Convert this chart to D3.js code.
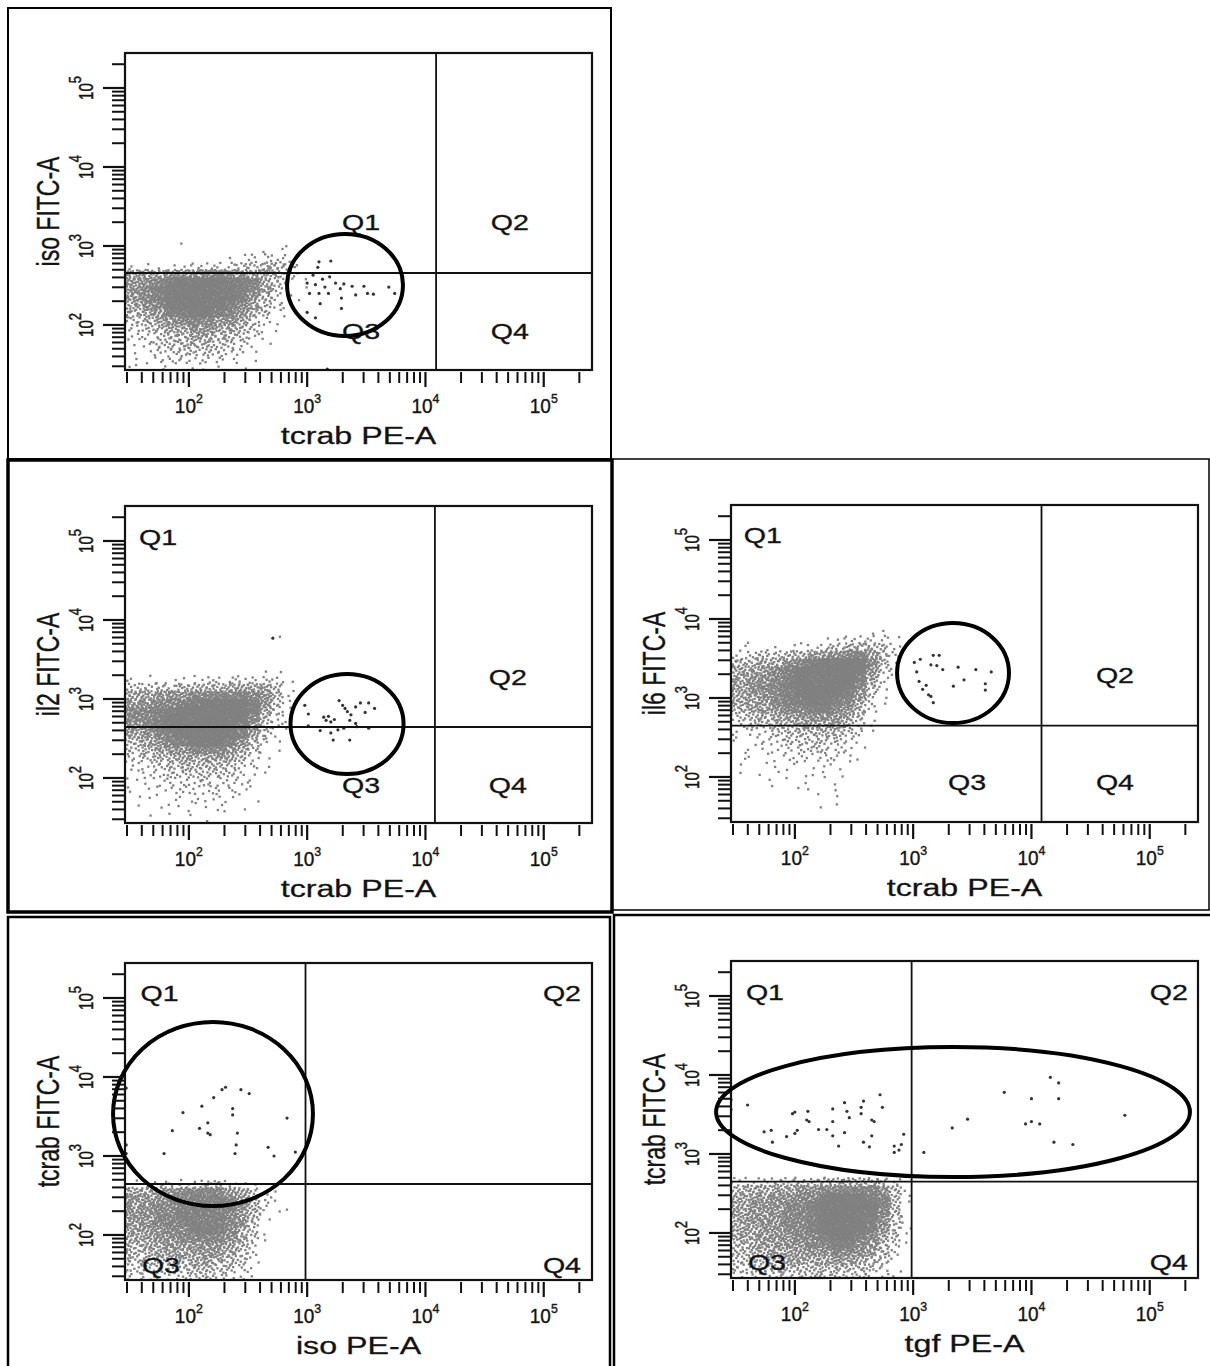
<!DOCTYPE html>
<html><head><meta charset="utf-8">
<script src="https://cdn.jsdelivr.net/npm/d3@7/dist/d3.min.js"></script>
<style>
body{margin:0;background:#fff}
svg{display:block}
text{font-family:"Liberation Sans",Arial,Helvetica,sans-serif;fill:#111}
</style>
</head><body>
<svg id="chart" width="1210" height="1366"></svg>
<script>
// ---------------- DATA (log10 units) ----------------
const xTitles = ["tcrab PE-A","tcrab PE-A","tcrab PE-A","iso PE-A","tgf PE-A"];
const yTitles = ["iso FITC-A","il2 FITC-A","il6 FITC-A","tcrab FITC-A","tcrab FITC-A"];
const decadeExponents = [2,3,4,5];
const minorMultipliers = [2,3,4,5,6,7,8,9];
const quadrantNames = ["Q1","Q2","Q3","Q4"];
const xDomainLog = [1.46, 5.408];
const yDomainLog = [1.43, 5.443];

// quadrant gate (x, y) in log10
const quadGates = [[4.09,2.658],[4.08,2.645],[4.085,2.649],[2.986,2.645],[2.987,2.649]];
// drawn ellipse: centre x, centre y, half-width, half-height (decades)
const ellipseGates = [[3.32,2.506,0.49,0.646],[3.337,2.683,0.478,0.633],[3.337,3.316,0.473,0.633],[2.204,3.531,0.845,1.165],[3.337,3.531,2.003,0.823]];
// quadrant label anchor points (log10)
const qLabelPos1 = [[3.455,3.303],[4.714,3.303],[3.455,1.917],[4.714,1.917]];
const qLabelPos2 = [[1.739,5.050],[4.697,3.278],[3.455,1.911],[4.697,1.911]];
const qLabelPos3 = [[1.730,5.063],[4.706,3.291],[3.455,1.936],[4.706,1.936]];
const qLabelPos4 = [[1.752,5.063],[5.154,5.063],[1.764,1.620],[5.154,1.620]];
const qLabelPos5 = [[1.747,5.050],[5.162,5.050],[1.764,1.633],[5.162,1.633]];

// event-density grids: columns start at log x 1.4, step 0.1; rows step 0.1 downward from the given top row
const cloudColStart = 1.4;
const cloudTop = [3.0, 3.7, 3.8, 2.6, 2.6];
const cloud1 = [
"0000010000000000","0000000000001110","0000000001122210","1111112222334431",
"5555666776655421","6667899998875321","6678999999875311","6678999999864211",
"5567999998753210","4456889987643110","3345677766532100","2234556655431100",
"2223445544321000","1123344433211000","1112333332210000","1112222221110000",
"1111111111100000"];
const cloud2 = [
"0000000000000100","0000000000000000","0000000000000000","0000000000000000",
"0000000000001100","1111111222222210","3333344445555310","5556667777776410",
"6667788999986310","7778899999985310","7778999999974210","6678999999863210",
"5567899999853100","4456789998642100","3345667776531100","2234455555321000",
"2223344443221000","1122333333211000","1112222322210000","1111222222110000",
"1111112121110000","1101111111100000","0010111011000000","0000010100000000"];
const cloud3 = [
"0000000000001100","0000000011222210","0111111223444320","2233344566776420",
"4445567899997410","5556789999996310","5566789999985210","5567789999974200",
"5566789999863100","5556788998752100","4455677887642000","3344556666531000",
"2233445555421000","1122334444321000","1112233333210000","1111222332210000",
"1111122222110000","0101111111100000","0101111111100000","0001011011000000",
"0000101101000000","0000000101000000","0000000011000000"];
const cloud4 = [
"1112222332110000","5556677776531100","6666778887642100","6667788888642010",
"6667788887641100","6667788887631000","5566778887531000","5556677776521000",
"4455666665420000","4445555655320000","3344445544310000","3333334433210000",
"2222233332210000"];
const cloud5 = [
"2222333344444320","4455556677777641","5556667789998741","5566677899999741",
"5566677899999741","5566677899998631","5556677899998631","5556667789987531",
"4455666778876421","4445556667765420","3344455556554310","3333444444443210",
"2222333333332210"];

// individual highlighted events (log10 x, log10 y)
const events1 = [[3.10,2.80],[3.20,2.81],[3.09,2.73],[3.05,2.63],[3.13,2.58],[3.19,2.61],[3.00,2.53],[3.07,2.51],[3.15,2.48],[3.24,2.53],[3.31,2.52],[3.38,2.49],[3.48,2.49],[3.28,2.46],[3.02,2.40],[3.10,2.40],[3.18,2.40],[3.29,2.34],[3.41,2.38],[3.51,2.40],[3.56,2.39],[3.69,2.48],[3.74,2.40],[3.11,2.27],[3.29,2.21],[3.00,2.16],[3.07,2.09],[3.17,1.44]];
const events2 = [[3.01,2.81],[3.01,2.66],[2.98,2.92],[3.14,2.77],[3.18,2.78],[3.20,2.71],[3.16,2.73],[3.23,2.74],[3.27,2.98],[3.30,2.92],[3.32,2.88],[3.34,2.84],[3.37,2.80],[3.41,2.90],[3.45,2.95],[3.49,2.83],[3.52,2.95],[3.57,2.88],[3.36,2.73],[3.41,2.69],[3.52,2.63],[3.11,2.60],[3.20,2.57],[3.26,2.61],[3.31,2.63],[3.22,2.48],[3.36,2.48],[3.42,2.65],[2.71,3.77]];
const events3 = [[3.01,3.45],[3.06,3.49],[3.17,3.54],[3.22,3.54],[3.15,3.42],[3.20,3.41],[3.25,3.36],[3.38,3.39],[3.53,3.36],[3.66,3.33],[3.43,3.23],[3.03,3.33],[3.05,3.21],[3.11,3.16],[3.13,3.04],[3.15,3.02],[3.17,2.94],[3.34,3.15],[3.61,3.10],[3.61,3.18],[3.08,3.11]];
const events4 = [[2.28,3.84],[2.31,3.87],[2.44,3.84],[2.51,3.79],[2.21,3.74],[2.11,3.63],[2.37,3.60],[2.37,3.52],[1.95,3.55],[2.83,3.48],[2.16,3.42],[2.09,3.35],[2.16,3.29],[2.18,3.27],[2.41,3.29],[1.86,3.32],[2.40,3.14],[2.67,3.11],[2.72,3.00],[2.90,3.05],[2.39,3.03],[1.79,3.03],[1.47,3.86],[1.47,3.14],[1.47,3.03]];
const events5 = [[1.60,3.62],[1.74,3.28],[1.80,3.30],[1.81,3.15],[1.93,3.22],[1.98,3.51],[2.00,3.53],[2.00,3.26],[2.02,3.30],[2.10,3.43],[2.12,3.41],[2.11,3.54],[2.20,3.31],[2.27,3.31],[2.32,3.23],[2.32,3.41],[2.32,3.57],[2.37,3.10],[2.42,3.65],[2.42,3.27],[2.44,3.54],[2.46,3.46],[2.56,3.59],[2.56,3.51],[2.58,3.67],[2.58,3.15],[2.63,3.09],[2.65,3.43],[2.67,3.41],[2.65,3.23],[2.72,3.75],[2.74,3.59],[2.84,3.10],[2.84,3.02],[2.88,3.05],[2.90,3.12],[2.92,3.25],[3.09,3.02],[3.33,3.33],[3.46,3.44],[3.77,3.78],[3.95,3.38],[4.00,3.41],[4.07,3.38],[4.00,3.70],[4.16,3.97],[4.23,3.90],[4.23,3.70],[4.19,3.15],[4.35,3.12],[4.79,3.49],[1.46,3.69],[1.46,3.56]];

// ---------------- LAYOUT ----------------
const PW = 467, PH = 317;
const frames = [{x:125,y:53},{x:125,y:506},{x:731,y:505},{x:125,y:963},{x:731,y:961}];
const boxes = [
  {x:8,y:8,w:603,h:451,sw:2},
  {x:8,y:460,w:604,h:452,sw:3.5},
  {x:612,y:459,w:597,h:451,sw:1.5},
  {x:8,y:917,w:602,h:460,sw:2.5},
  {x:614,y:915,w:600,h:460,sw:2.5}
];
const clouds = [cloud1,cloud2,cloud3,cloud4,cloud5];
const eventsAll = [events1,events2,events3,events4,events5];
const qPosAll = [qLabelPos1,qLabelPos2,qLabelPos3,qLabelPos4,qLabelPos5];
const levelCounts = [0,1,3,6,9,13,18,25,35,52];
const DOT = 2.3;

const svg = d3.select("#chart");
const pow = v => Math.pow(10, v);
function halton(i, b){ let f=1, r=0; while(i>0){ f/=b; r+=f*(i%b); i=Math.floor(i/b);} return r; }

// outer panel boxes
svg.append("g").selectAll("rect").data(boxes).join("rect")
  .attr("x",d=>d.x).attr("y",d=>d.y).attr("width",d=>d.w).attr("height",d=>d.h)
  .attr("fill","none").attr("stroke","#000").attr("stroke-width",d=>d.sw);

frames.forEach((f, pi) => {
  const x = d3.scaleLog().domain(xDomainLog.map(pow)).range([f.x, f.x+PW]);
  const y = d3.scaleLog().domain(yDomainLog.map(pow)).range([f.y+PH, f.y]);
  const g = svg.append("g");
  const clipId = "clip"+pi;
  g.append("clipPath").attr("id",clipId).append("rect")
    .attr("x",f.x).attr("y",f.y).attr("width",PW).attr("height",PH);

  // density cloud -> dots
  const dots = [];
  clouds[pi].forEach((row, ri) => {
    const yb = cloudTop[pi] - ri*0.1;
    for (let ci=0; ci<row.length; ci++){
      const n = levelCounts[+row[ci]];
      const start = ((ci*37 + ri*91 + pi*17) % 211) + 1;
      for (let k=0;k<n;k++){
        const xv = cloudColStart + (ci + halton(start+k,2))*0.1;
        const yv = yb + halton(start+k,3)*0.1;
        dots.push([xv,yv]);
      }
    }
  });
  g.append("g").attr("clip-path","url(#"+clipId+")").selectAll("rect").data(dots).join("rect")
    .attr("x",d=>x(pow(d[0]))-DOT/2).attr("y",d=>y(pow(d[1]))-DOT/2)
    .attr("width",DOT).attr("height",DOT).attr("fill","#808080");

  // highlighted events
  g.append("g").attr("clip-path","url(#"+clipId+")").selectAll("circle").data(eventsAll[pi]).join("circle")
    .attr("cx",d=>x(pow(d[0]))).attr("cy",d=>y(pow(d[1]))).attr("r",1.6).attr("fill","#333");

  // quadrant gate lines
  const qg = quadGates[pi];
  g.append("line").attr("x1",x(pow(qg[0]))).attr("x2",x(pow(qg[0]))).attr("y1",f.y).attr("y2",f.y+PH)
    .attr("stroke","#111").attr("stroke-width",1.8);
  g.append("line").attr("x1",f.x).attr("x2",f.x+PW).attr("y1",y(pow(qg[1]))).attr("y2",y(pow(qg[1])))
    .attr("stroke","#111").attr("stroke-width",1.8);

  // frame
  g.append("rect").attr("x",f.x).attr("y",f.y).attr("width",PW).attr("height",PH)
    .attr("fill","none").attr("stroke","#111").attr("stroke-width",2.2);

  // quadrant labels
  qPosAll[pi].forEach((p,qi)=>{
    g.append("text").attr("transform",`translate(${x(pow(p[0]))},${y(pow(p[1]))}) scale(1.3,1)`)
      .attr("text-anchor","middle").attr("dominant-baseline","central")
      .attr("font-size",22).attr("stroke","#222").attr("stroke-width",0.35).text(quadrantNames[qi]);
  });

  // ellipse gate
  const e = ellipseGates[pi];
  const cx = x(pow(e[0])), cy = y(pow(e[1]));
  g.append("ellipse").attr("cx",cx).attr("cy",cy)
    .attr("rx",x(pow(e[0]+e[2]))-cx).attr("ry",cy-y(pow(e[1]+e[3])))
    .attr("fill","none").attr("stroke","#000").attr("stroke-width",4);

  // ticks
  const minorVals = [];
  [1,2,3,4,5].forEach(d=>minorMultipliers.forEach(m=>{
    const v = m*pow(d); if (v>=pow(xDomainLog[0]) && v<=pow(xDomainLog[1])) minorVals.push(v);
  }));
  const minorValsY = [];
  [1,2,3,4,5].forEach(d=>minorMultipliers.forEach(m=>{
    const v = m*pow(d); if (v>=pow(yDomainLog[0]) && v<=pow(yDomainLog[1])) minorValsY.push(v);
  }));
  const majorVals = decadeExponents.map(pow);
  const bottom = f.y+PH, left = f.x;
  const tg = g.append("g").attr("stroke","#111");
  tg.selectAll("line.xm").data(minorVals).join("line").attr("class","xm")
    .attr("x1",d=>x(d)).attr("x2",d=>x(d)).attr("y1",bottom+2).attr("y2",bottom+13).attr("stroke-width",2);
  tg.selectAll("line.xM").data(majorVals).join("line").attr("class","xM")
    .attr("x1",d=>x(d)).attr("x2",d=>x(d)).attr("y1",bottom+2).attr("y2",bottom+17).attr("stroke-width",2.2);
  tg.selectAll("line.ym").data(minorValsY).join("line").attr("class","ym")
    .attr("y1",d=>y(d)).attr("y2",d=>y(d)).attr("x1",left-13).attr("x2",left-1).attr("stroke-width",2);
  tg.selectAll("line.yM").data(majorVals).join("line").attr("class","yM")
    .attr("y1",d=>y(d)).attr("y2",d=>y(d)).attr("x1",left-22).attr("x2",left-1).attr("stroke-width",2.2);

  // x tick labels
  decadeExponents.forEach(ex=>{
    const t = g.append("text").attr("transform",`translate(${x(pow(ex))},${bottom+43}) scale(0.95,1)`)
      .attr("text-anchor","middle").attr("font-size",20).attr("stroke","#222").attr("stroke-width",0.4);
    t.append("tspan").text("10");
    t.append("tspan").attr("dy",-10).attr("font-size",13).text(ex);
  });
  // y tick labels (rotated)
  decadeExponents.forEach(ex=>{
    const t = g.append("text").attr("transform",`translate(${left-32},${y(pow(ex))}) scale(1.3,1) rotate(-90)`)
      .attr("text-anchor","middle").attr("font-size",15).attr("stroke","#222").attr("stroke-width",0.4);
    t.append("tspan").text("10");
    t.append("tspan").attr("dy",-9).attr("font-size",13).text(ex);
  });

  // axis titles
  g.append("text").attr("transform",`translate(${f.x+PW/2},${bottom+74}) scale(1.4,1)`)
    .attr("text-anchor","middle").attr("font-size",23).attr("stroke","#222").attr("stroke-width",0.3).text(xTitles[pi]);
  g.append("text").attr("transform",`translate(${left-66},${f.y+PH/2}) scale(1.4,1) rotate(-90)`)
    .attr("text-anchor","middle").attr("font-size",23).attr("stroke","#222").attr("stroke-width",0.3).text(yTitles[pi]);
});
</script>
</body></html>
